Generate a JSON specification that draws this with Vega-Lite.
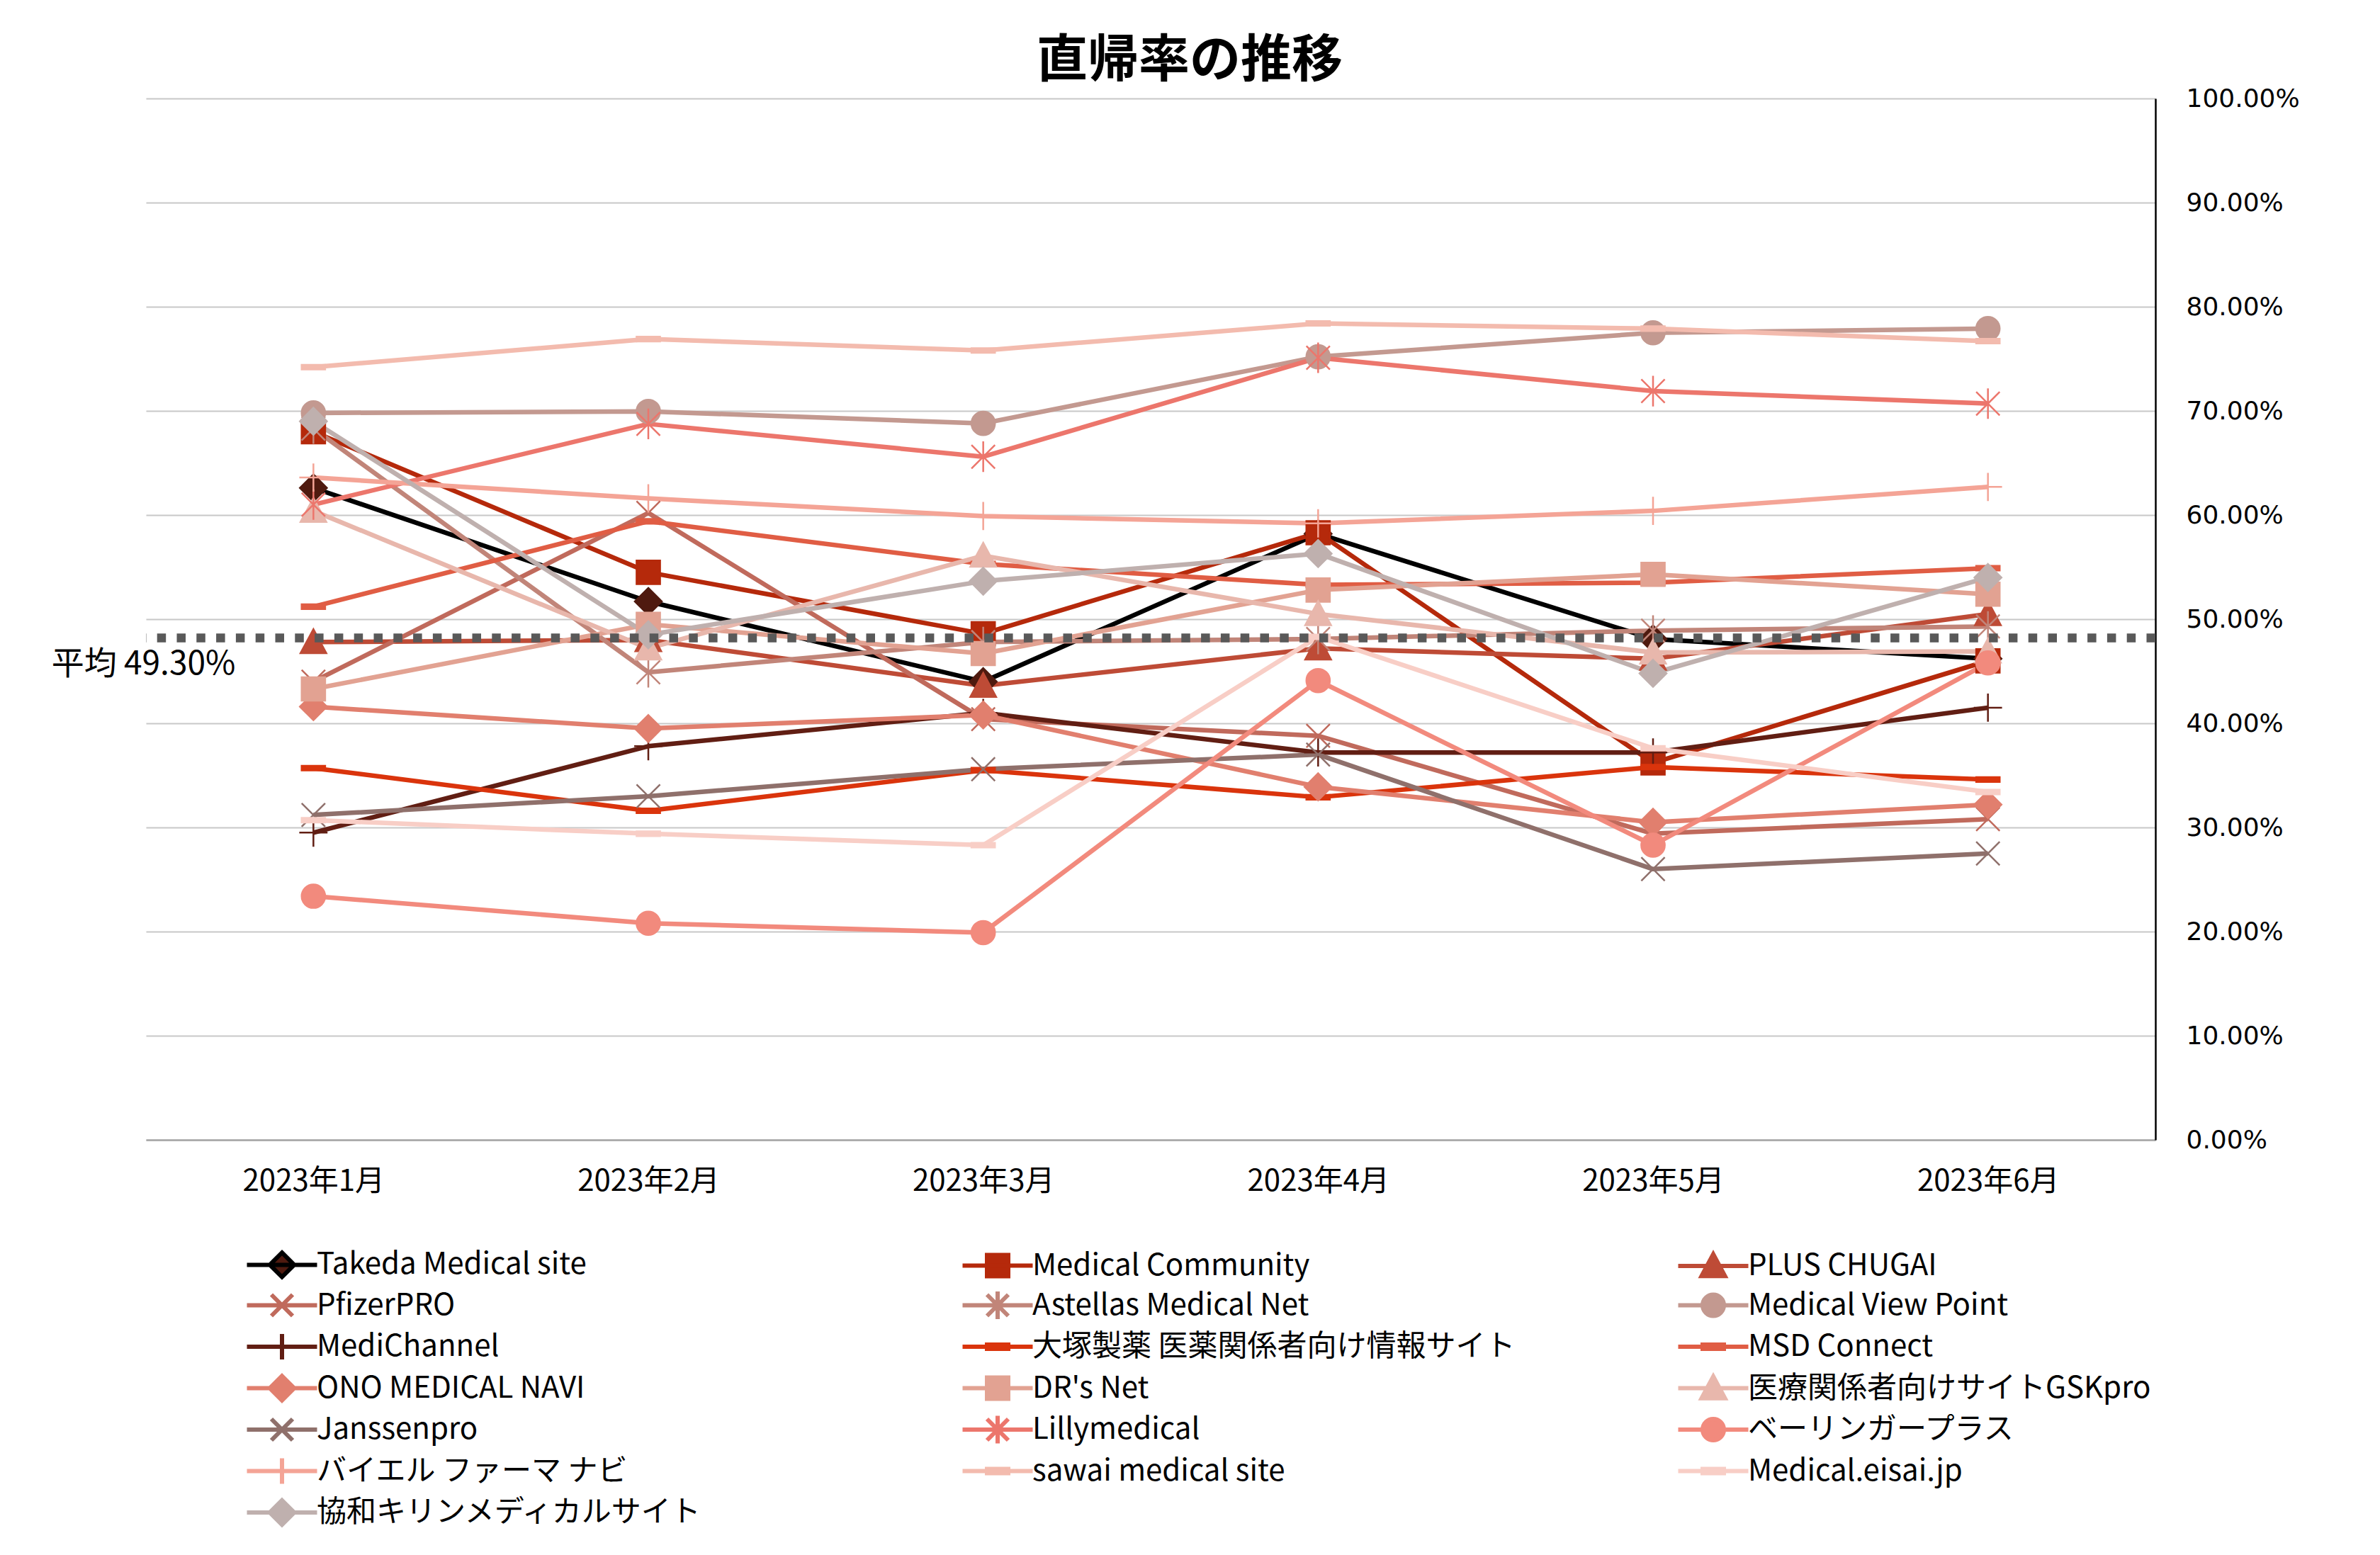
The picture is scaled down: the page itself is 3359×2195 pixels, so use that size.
{
  "$schema": "https://vega.github.io/schema/vega-lite/v6.json",
  "autosize": {"type": "none"},
  "padding": {"left": 206, "top": 139, "right": 317, "bottom": 586},
  "width": 2836,
  "height": 1470,
  "background": "white",
  "title": {"text": "直帰率の推移", "font": "Noto Sans CJK JP", "fontSize": 72, "fontWeight": "bold", "color": "#000000", "anchor": "middle", "frame": "group", "dx": 55, "offset": -74, "baseline": "bottom"},
  "config": {"view": {"stroke": null}},
  "datasets": {
    "main": [
      {"site": "Takeda Medical site", "month": "2023年1月", "rate": 0.626},
      {"site": "Takeda Medical site", "month": "2023年2月", "rate": 0.517},
      {"site": "Takeda Medical site", "month": "2023年3月", "rate": 0.440},
      {"site": "Takeda Medical site", "month": "2023年4月", "rate": 0.582},
      {"site": "Takeda Medical site", "month": "2023年5月", "rate": 0.481},
      {"site": "Takeda Medical site", "month": "2023年6月", "rate": 0.462},
      {"site": "Medical Community", "month": "2023年1月", "rate": 0.680},
      {"site": "Medical Community", "month": "2023年2月", "rate": 0.545},
      {"site": "Medical Community", "month": "2023年3月", "rate": 0.486},
      {"site": "Medical Community", "month": "2023年4月", "rate": 0.583},
      {"site": "Medical Community", "month": "2023年5月", "rate": 0.362},
      {"site": "Medical Community", "month": "2023年6月", "rate": 0.460},
      {"site": "PLUS CHUGAI", "month": "2023年1月", "rate": 0.478},
      {"site": "PLUS CHUGAI", "month": "2023年2月", "rate": 0.480},
      {"site": "PLUS CHUGAI", "month": "2023年3月", "rate": 0.436},
      {"site": "PLUS CHUGAI", "month": "2023年4月", "rate": 0.472},
      {"site": "PLUS CHUGAI", "month": "2023年5月", "rate": 0.462},
      {"site": "PLUS CHUGAI", "month": "2023年6月", "rate": 0.505},
      {"site": "PfizerPRO", "month": "2023年1月", "rate": 0.440},
      {"site": "PfizerPRO", "month": "2023年2月", "rate": 0.602},
      {"site": "PfizerPRO", "month": "2023年3月", "rate": 0.404},
      {"site": "PfizerPRO", "month": "2023年4月", "rate": 0.388},
      {"site": "PfizerPRO", "month": "2023年5月", "rate": 0.294},
      {"site": "PfizerPRO", "month": "2023年6月", "rate": 0.308},
      {"site": "Astellas Medical Net", "month": "2023年1月", "rate": 0.683},
      {"site": "Astellas Medical Net", "month": "2023年2月", "rate": 0.449},
      {"site": "Astellas Medical Net", "month": "2023年3月", "rate": 0.478},
      {"site": "Astellas Medical Net", "month": "2023年4月", "rate": 0.481},
      {"site": "Astellas Medical Net", "month": "2023年5月", "rate": 0.489},
      {"site": "Astellas Medical Net", "month": "2023年6月", "rate": 0.493},
      {"site": "Medical View Point", "month": "2023年1月", "rate": 0.698},
      {"site": "Medical View Point", "month": "2023年2月", "rate": 0.6995},
      {"site": "Medical View Point", "month": "2023年3月", "rate": 0.688},
      {"site": "Medical View Point", "month": "2023年4月", "rate": 0.752},
      {"site": "Medical View Point", "month": "2023年5月", "rate": 0.775},
      {"site": "Medical View Point", "month": "2023年6月", "rate": 0.779},
      {"site": "MediChannel", "month": "2023年1月", "rate": 0.295},
      {"site": "MediChannel", "month": "2023年2月", "rate": 0.378},
      {"site": "MediChannel", "month": "2023年3月", "rate": 0.410},
      {"site": "MediChannel", "month": "2023年4月", "rate": 0.372},
      {"site": "MediChannel", "month": "2023年5月", "rate": 0.372},
      {"site": "MediChannel", "month": "2023年6月", "rate": 0.415},
      {"site": "大塚製薬 医薬関係者向け情報サイト", "month": "2023年1月", "rate": 0.357},
      {"site": "大塚製薬 医薬関係者向け情報サイト", "month": "2023年2月", "rate": 0.316},
      {"site": "大塚製薬 医薬関係者向け情報サイト", "month": "2023年3月", "rate": 0.355},
      {"site": "大塚製薬 医薬関係者向け情報サイト", "month": "2023年4月", "rate": 0.329},
      {"site": "大塚製薬 医薬関係者向け情報サイト", "month": "2023年5月", "rate": 0.358},
      {"site": "大塚製薬 医薬関係者向け情報サイト", "month": "2023年6月", "rate": 0.346},
      {"site": "MSD Connect", "month": "2023年1月", "rate": 0.512},
      {"site": "MSD Connect", "month": "2023年2月", "rate": 0.594},
      {"site": "MSD Connect", "month": "2023年3月", "rate": 0.553},
      {"site": "MSD Connect", "month": "2023年4月", "rate": 0.533},
      {"site": "MSD Connect", "month": "2023年5月", "rate": 0.535},
      {"site": "MSD Connect", "month": "2023年6月", "rate": 0.549},
      {"site": "ONO MEDICAL NAVI", "month": "2023年1月", "rate": 0.416},
      {"site": "ONO MEDICAL NAVI", "month": "2023年2月", "rate": 0.395},
      {"site": "ONO MEDICAL NAVI", "month": "2023年3月", "rate": 0.408},
      {"site": "ONO MEDICAL NAVI", "month": "2023年4月", "rate": 0.339},
      {"site": "ONO MEDICAL NAVI", "month": "2023年5月", "rate": 0.305},
      {"site": "ONO MEDICAL NAVI", "month": "2023年6月", "rate": 0.322},
      {"site": "DR's Net", "month": "2023年1月", "rate": 0.433},
      {"site": "DR's Net", "month": "2023年2月", "rate": 0.495},
      {"site": "DR's Net", "month": "2023年3月", "rate": 0.467},
      {"site": "DR's Net", "month": "2023年4月", "rate": 0.528},
      {"site": "DR's Net", "month": "2023年5月", "rate": 0.543},
      {"site": "DR's Net", "month": "2023年6月", "rate": 0.524},
      {"site": "医療関係者向けサイトGSKpro", "month": "2023年1月", "rate": 0.604},
      {"site": "医療関係者向けサイトGSKpro", "month": "2023年2月", "rate": 0.472},
      {"site": "医療関係者向けサイトGSKpro", "month": "2023年3月", "rate": 0.561},
      {"site": "医療関係者向けサイトGSKpro", "month": "2023年4月", "rate": 0.505},
      {"site": "医療関係者向けサイトGSKpro", "month": "2023年5月", "rate": 0.468},
      {"site": "医療関係者向けサイトGSKpro", "month": "2023年6月", "rate": 0.469},
      {"site": "Janssenpro", "month": "2023年1月", "rate": 0.312},
      {"site": "Janssenpro", "month": "2023年2月", "rate": 0.330},
      {"site": "Janssenpro", "month": "2023年3月", "rate": 0.356},
      {"site": "Janssenpro", "month": "2023年4月", "rate": 0.370},
      {"site": "Janssenpro", "month": "2023年5月", "rate": 0.260},
      {"site": "Janssenpro", "month": "2023年6月", "rate": 0.275},
      {"site": "Lillymedical", "month": "2023年1月", "rate": 0.610},
      {"site": "Lillymedical", "month": "2023年2月", "rate": 0.6875},
      {"site": "Lillymedical", "month": "2023年3月", "rate": 0.656},
      {"site": "Lillymedical", "month": "2023年4月", "rate": 0.751},
      {"site": "Lillymedical", "month": "2023年5月", "rate": 0.719},
      {"site": "Lillymedical", "month": "2023年6月", "rate": 0.707},
      {"site": "ベーリンガープラス", "month": "2023年1月", "rate": 0.234},
      {"site": "ベーリンガープラス", "month": "2023年2月", "rate": 0.208},
      {"site": "ベーリンガープラス", "month": "2023年3月", "rate": 0.199},
      {"site": "ベーリンガープラス", "month": "2023年4月", "rate": 0.441},
      {"site": "ベーリンガープラス", "month": "2023年5月", "rate": 0.283},
      {"site": "ベーリンガープラス", "month": "2023年6月", "rate": 0.458},
      {"site": "バイエル ファーマ ナビ", "month": "2023年1月", "rate": 0.636},
      {"site": "バイエル ファーマ ナビ", "month": "2023年2月", "rate": 0.616},
      {"site": "バイエル ファーマ ナビ", "month": "2023年3月", "rate": 0.599},
      {"site": "バイエル ファーマ ナビ", "month": "2023年4月", "rate": 0.592},
      {"site": "バイエル ファーマ ナビ", "month": "2023年5月", "rate": 0.604},
      {"site": "バイエル ファーマ ナビ", "month": "2023年6月", "rate": 0.627},
      {"site": "sawai medical site", "month": "2023年1月", "rate": 0.742},
      {"site": "sawai medical site", "month": "2023年2月", "rate": 0.769},
      {"site": "sawai medical site", "month": "2023年3月", "rate": 0.758},
      {"site": "sawai medical site", "month": "2023年4月", "rate": 0.784},
      {"site": "sawai medical site", "month": "2023年5月", "rate": 0.779},
      {"site": "sawai medical site", "month": "2023年6月", "rate": 0.767},
      {"site": "Medical.eisai.jp", "month": "2023年1月", "rate": 0.307},
      {"site": "Medical.eisai.jp", "month": "2023年2月", "rate": 0.294},
      {"site": "Medical.eisai.jp", "month": "2023年3月", "rate": 0.283},
      {"site": "Medical.eisai.jp", "month": "2023年4月", "rate": 0.483},
      {"site": "Medical.eisai.jp", "month": "2023年5月", "rate": 0.376},
      {"site": "Medical.eisai.jp", "month": "2023年6月", "rate": 0.334},
      {"site": "協和キリンメディカルサイト", "month": "2023年1月", "rate": 0.690},
      {"site": "協和キリンメディカルサイト", "month": "2023年2月", "rate": 0.485},
      {"site": "協和キリンメディカルサイト", "month": "2023年3月", "rate": 0.5365},
      {"site": "協和キリンメディカルサイト", "month": "2023年4月", "rate": 0.563},
      {"site": "協和キリンメディカルサイト", "month": "2023年5月", "rate": 0.448},
      {"site": "協和キリンメディカルサイト", "month": "2023年6月", "rate": 0.540}
    ],
    "avg": [
      {"label": "平均 49.30%", "value": 0.482}
    ]
  },
  "layer": [
    {
      "data": {"name": "main"},
      "mark": {"type": "line", "strokeWidth": 6.5, "strokeJoin": "round"},
      "encoding": {
        "x": {"field": "month", "type": "ordinal",
          "scale": {"type": "point", "padding": 0.5, "domain": ["2023年1月", "2023年2月", "2023年3月", "2023年4月", "2023年5月", "2023年6月"]},
          "axis": {"title": null, "orient": "bottom", "labelAngle": 0, "ticks": false, "grid": false, "domainColor": "#a6a6a6", "domainWidth": 2.5, "labelFont": "Noto Sans CJK JP", "labelFontSize": 42, "labelColor": "#000000", "labelPadding": 38, "labelLimit": 1000}},
        "y": {"field": "rate", "type": "quantitative",
          "scale": {"domain": [0, 1], "nice": false, "zero": true},
          "axis": {"title": null, "orient": "right", "values": [0, 0.1, 0.2, 0.3, 0.4, 0.5, 0.6, 0.7, 0.8, 0.9, 1.0], "format": ".2%", "ticks": false, "grid": true, "gridColor": "#c8c8c8", "gridWidth": 2, "domainColor": "#000000", "domainWidth": 2.5, "labelFont": "DejaVu Sans", "labelFontSize": 36, "labelColor": "#000000", "labelPadding": 43, "labelAlign": "left"}},
        "color": {"field": "site", "type": "nominal",
          "scale": {
            "domain": ["Takeda Medical site", "Medical Community", "PLUS CHUGAI", "PfizerPRO", "Astellas Medical Net", "Medical View Point", "MediChannel", "大塚製薬 医薬関係者向け情報サイト", "MSD Connect", "ONO MEDICAL NAVI", "DR's Net", "医療関係者向けサイトGSKpro", "Janssenpro", "Lillymedical", "ベーリンガープラス", "バイエル ファーマ ナビ", "sawai medical site", "Medical.eisai.jp", "協和キリンメディカルサイト"],
            "range": ["#000000", "#B5290B", "#BE4B36", "#C06A5C", "#C18579", "#C39990", "#611E13", "#DA340C", "#E05D44", "#E17F6E", "#E2A292", "#E8B7AC", "#8F706B", "#EC766C", "#F28A7D", "#F4A496", "#F3BBAE", "#F8CEC6", "#BFB0AE"]
          },
          "legend": {
            "title": null, "orient": "none", "legendX": 171, "legendY": 1624, "columns": 3, "direction": "horizontal", "gridAlign": "all",
            "columnPadding": 217, "rowPadding": -5.5, "padding": 0,
            "labelFont": "Noto Sans CJK JP", "labelFontSize": 42, "labelColor": "#000000", "labelLimit": 1200, "labelOffset": 28,
            "symbolSize": 900, "symbolStrokeWidth": 6,
            "encode": {
              "symbols": {
                "update": {
                  "shape": {"signal": "'M-3.3,0H3.3' + scale('shape', datum.value)"},
                  "fill": {"signal": "scale('fill', datum.value)"},
                  "strokeWidth": {"value": 6},
                  "opacity": {"value": 1}
                }
              }
            }
          }
        }
      }
    },
    {
      "data": {"name": "main"},
      "mark": {"type": "point", "size": 1100, "strokeWidth": 2.5, "opacity": 1},
      "encoding": {
        "x": {"field": "month", "type": "ordinal"},
        "y": {"field": "rate", "type": "quantitative"},
        "fill": {"field": "site", "type": "nominal", "legend": null,
          "scale": {
            "domain": ["Takeda Medical site", "Medical Community", "PLUS CHUGAI", "PfizerPRO", "Astellas Medical Net", "Medical View Point", "MediChannel", "大塚製薬 医薬関係者向け情報サイト", "MSD Connect", "ONO MEDICAL NAVI", "DR's Net", "医療関係者向けサイトGSKpro", "Janssenpro", "Lillymedical", "ベーリンガープラス", "バイエル ファーマ ナビ", "sawai medical site", "Medical.eisai.jp", "協和キリンメディカルサイト", "_"],
            "range": ["#4F1A0F", "#B5290B", "#BE4B36", "#C06A5C", "#C18579", "#C39990", "#611E13", "#DA340C", "#E05D44", "#E17F6E", "#E2A292", "#E8B7AC", "#8F706B", "#EC766C", "#F28A7D", "#F4A496", "#F3BBAE", "#F8CEC6", "#BFB0AE", "#ffffff"]
          }},
        "stroke": {"field": "site", "type": "nominal", "legend": null,
          "scale": {
            "domain": ["Takeda Medical site", "Medical Community", "PLUS CHUGAI", "PfizerPRO", "Astellas Medical Net", "Medical View Point", "MediChannel", "大塚製薬 医薬関係者向け情報サイト", "MSD Connect", "ONO MEDICAL NAVI", "DR's Net", "医療関係者向けサイトGSKpro", "Janssenpro", "Lillymedical", "ベーリンガープラス", "バイエル ファーマ ナビ", "sawai medical site", "Medical.eisai.jp", "協和キリンメディカルサイト", "_"],
            "range": ["#4F1A0F", "#B5290B", "#BE4B36", "#C06A5C", "#C18579", "#C39990", "#611E13", "#DA340C", "#E05D44", "#E17F6E", "#E2A292", "#E8B7AC", "#8F706B", "#EC766C", "#F28A7D", "#F4A496", "#F3BBAE", "#F8CEC6", "#BFB0AE", "#ffffff"]
          }},
        "shape": {"field": "site", "type": "nominal", "legend": null,
          "scale": {
            "domain": ["Takeda Medical site", "Medical Community", "PLUS CHUGAI", "PfizerPRO", "Astellas Medical Net", "Medical View Point", "MediChannel", "大塚製薬 医薬関係者向け情報サイト", "MSD Connect", "ONO MEDICAL NAVI", "DR's Net", "医療関係者向けサイトGSKpro", "Janssenpro", "Lillymedical", "ベーリンガープラス", "バイエル ファーマ ナビ", "sawai medical site", "Medical.eisai.jp", "協和キリンメディカルサイト", "_"],
            "range": [
              "M0,-1.15L1.15,0L0,1.15L-1.15,0Z",
              "M-1,-1H1V1H-1Z",
              "M0,-1.1L1.1,0.95H-1.1Z",
              "M-1,-1L1,1M1,-1L-1,1",
              "M-1,-1L1,1M1,-1L-1,1M0,-1.3V1.3",
              "M1,0A1,1,0,1,1,-1,0A1,1,0,1,1,1,0Z",
              "M0,-1.2V1.2M-1.2,0H1.2",
              "M-1,-0.2H1V0.2H-1Z",
              "M-1,-0.2H1V0.2H-1Z",
              "M0,-1.15L1.15,0L0,1.15L-1.15,0Z",
              "M-1,-1H1V1H-1Z",
              "M0,-1.1L1.1,0.95H-1.1Z",
              "M-1,-1L1,1M1,-1L-1,1",
              "M-1,-1L1,1M1,-1L-1,1M0,-1.3V1.3",
              "M1,0A1,1,0,1,1,-1,0A1,1,0,1,1,1,0Z",
              "M0,-1.2V1.2M-1.2,0H1.2",
              "M-1,-0.2H1V0.2H-1Z",
              "M-1,-0.2H1V0.2H-1Z",
              "M0,-1.15L1.15,0L0,1.15L-1.15,0Z",
              "M0,0"
            ]
          }}
      }
    },
    {
      "data": {"name": "avg"},
      "mark": {"type": "rule", "color": "#595959", "strokeWidth": 12.5, "strokeDash": [12.5, 15.3], "strokeCap": "butt"},
      "encoding": {
        "y": {"field": "value", "type": "quantitative"}
      }
    },
    {
      "data": {"name": "avg"},
      "mark": {"type": "text", "align": "right", "baseline": "middle", "dx": -110, "dy": 38, "font": "Noto Sans CJK JP", "fontSize": 46, "color": "#000000"},
      "encoding": {
        "x": {"datum": "2023年1月", "type": "ordinal"},
        "y": {"field": "value", "type": "quantitative"},
        "text": {"field": "label"}
      }
    }
  ]
}
